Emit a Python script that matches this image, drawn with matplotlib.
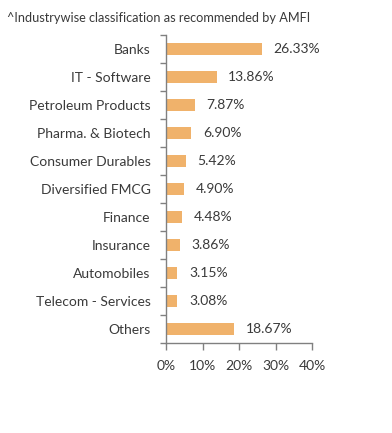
import numpy as np
import matplotlib.pyplot as plt
from matplotlib.ticker import FixedLocator

sectors = ["Banks", "IT - Software", "Petroleum Products", "Pharma. & Biotech",
           "Consumer Durables", "Diversified FMCG", "Finance", "Insurance",
           "Automobiles", "Telecom - Services", "Others"]
weights = [26.33, 13.86, 7.87, 6.90, 5.42, 4.90, 4.48, 3.86, 3.15, 3.08, 18.67]
xticks = [0, 10, 20, 30, 40]

plt.rcParams['font.family'] = ['Lato', 'DejaVu Sans']
txt = '#3a3a3a'
grey = '#808080'

fig = plt.figure(figsize=(3.92, 4.33), dpi=100)
ax = fig.add_axes([166/392, 1-343/433, 146/392, 308/433])

y = np.arange(len(sectors))
ax.barh(y, weights, height=0.43, color='#F0B26B')
for yi, w in zip(y, weights):
    ax.text(w + 3.2, yi, f"{w:.2f}%", va='center', ha='left', fontsize=10, color=txt)

ax.set_xlim(0, 40)
ax.set_ylim(len(sectors) - 0.5, -0.5)
ax.set_yticks(y)
ax.set_yticklabels(sectors, fontsize=10, color=txt)
ax.yaxis.set_minor_locator(FixedLocator(np.arange(-0.5, len(sectors), 1)))
ax.tick_params(axis='y', which='major', length=0, pad=11)
ax.tick_params(axis='y', which='minor', length=4, color=grey, width=1)
ax.set_xticks(xticks)
ax.set_xticklabels([f"{t}%" for t in xticks], fontsize=10, color=txt)
ax.tick_params(axis='x', length=5, color=grey, width=1, pad=7)

for s in ['top', 'right']:
    ax.spines[s].set_visible(False)
for s in ['left', 'bottom']:
    ax.spines[s].set_color(grey)
    ax.spines[s].set_linewidth(1)

fig.text(7/392, 1-18/433, "^Industrywise classification as recommended by AMFI",
         fontsize=9.2, color=txt, va='center', ha='left')

fig.savefig("out.png", dpi=100)
